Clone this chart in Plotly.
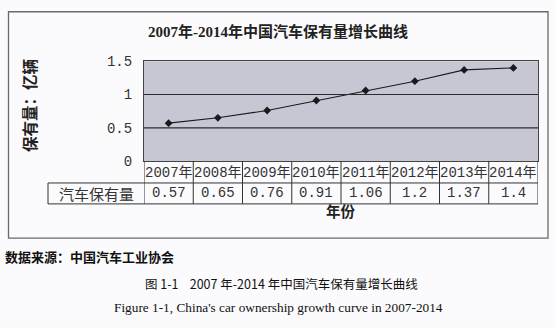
import plotly.graph_objects as go

years = ["2007年", "2008年", "2009年", "2010年", "2011年", "2012年", "2013年", "2014年"]
values = [0.57, 0.65, 0.76, 0.91, 1.06, 1.2, 1.37, 1.4]
value_labels = ["0.57", "0.65", "0.76", "0.91", "1.06", "1.2", "1.37", "1.4"]
y_ticks = [0, 0.5, 1, 1.5]
y_tick_text = ["0", "0.5", "1", "1.5"]
series_name = "汽车保有量"

W, H = 556, 328
PX0, PX1, PY0, PY1 = 144, 538, 57, 162   # plot area in pixels
ROW1, ROW2 = 185, 207                     # table row bottoms
HDR_X = 48

MONO_CJK = "Liberation Mono, Noto Sans CJK SC"
SERIF_CJK = "Liberation Serif, Noto Sans CJK SC"


def py(p):
    return 1 - p / H


def px(p):
    return p / W


fig = go.Figure()
fig.add_trace(go.Scatter(
    x=list(range(len(years))), y=values, mode="lines+markers",
    line=dict(color="#1a1a1a", width=1.1),
    marker=dict(symbol="diamond", size=6, color="#1a1a1a"),
    showlegend=False, hoverinfo="skip"))

shapes = []
# outer box
shapes.append(dict(type="rect", xref="paper", yref="paper", x0=px(8.5), x1=px(548), y0=py(243), y1=py(5),
                   line=dict(color="#6a6a6a", width=1.3), fillcolor="rgba(0,0,0,0)", layer="below"))
# gridlines
for t in y_ticks[1:3]:
    shapes.append(dict(type="line", xref="x domain", yref="y", x0=0, x1=1, y0=t, y1=t,
                       line=dict(color="#2a2a30", width=1.2)))
# table horizontal lines
for yy in [ROW1, ROW2]:
    shapes.append(dict(type="line", xref="paper", yref="paper", x0=px(HDR_X), x1=px(PX1), y0=py(yy), y1=py(yy),
                       line=dict(color="#333", width=1)))
# table vertical lines (category boundaries via x axis)
for i in range(len(years) + 1):
    shapes.append(dict(type="line", xref="x", yref="paper", x0=i - 0.5, x1=i - 0.5, y0=py(ROW2), y1=py(PY1),
                       line=dict(color="#333", width=1)))
shapes.append(dict(type="line", xref="paper", yref="paper", x0=px(HDR_X), x1=px(HDR_X), y0=py(ROW2), y1=py(ROW1),
                   line=dict(color="#333", width=1)))

annotations = []
for i, (yr, vl) in enumerate(zip(years, value_labels)):
    annotations.append(dict(x=i, xref="x", y=py((PY1 + ROW1) / 2 + 0.5), yref="paper", text=yr, showarrow=False,
                            font=dict(family=MONO_CJK, size=14, color="#333"),
                            xanchor="center", yanchor="middle"))
    annotations.append(dict(x=i, xref="x", y=py((ROW1 + ROW2) / 2), yref="paper", text=vl, showarrow=False,
                            font=dict(family="Liberation Mono", size=14, color="#333"),
                            xanchor="center", yanchor="middle"))
annotations.append(dict(x=px((HDR_X + PX0) / 2), xref="paper", y=py((ROW1 + ROW2) / 2), yref="paper",
                        text=series_name, showarrow=False,
                        font=dict(family="Noto Sans CJK SC", size=15, color="#333"),
                        xanchor="center", yanchor="middle"))
# titles
annotations.append(dict(x=px(278), xref="paper", y=py(26), yref="paper",
                        text="<b>2007年-2014年中国汽车保有量增长曲线</b>", showarrow=False,
                        font=dict(family=SERIF_CJK, size=15, color="#222"),
                        xanchor="center", yanchor="middle"))
annotations.append(dict(x=px(29), xref="paper", y=py(104), yref="paper",
                        text="<b>保有量：亿辆</b>", showarrow=False, textangle=-90,
                        font=dict(family="Noto Sans CJK SC", size=15.5, color="#222"),
                        xanchor="center", yanchor="middle"))
annotations.append(dict(x=px(341), xref="paper", y=py(214), yref="paper",
                        text="<b>年份</b>", showarrow=False,
                        font=dict(family="Noto Sans CJK SC", size=14.5, color="#222"),
                        xanchor="center", yanchor="middle"))
annotations.append(dict(x=px(3), xref="paper", y=py(262), yref="paper",
                        text="<b>数据来源：中国汽车工业协会</b>", showarrow=False,
                        font=dict(family="Noto Sans CJK SC", size=13, color="#111"),
                        xanchor="left", yanchor="middle"))
annotations.append(dict(x=px(281), xref="paper", y=py(291), yref="paper",
                        text="图 1-1    2007 年-2014 年中国汽车保有量增长曲线", showarrow=False,
                        font=dict(family="Noto Sans CJK SC", size=12.5, color="#111"),
                        xanchor="center", yanchor="middle"))
annotations.append(dict(x=px(278), xref="paper", y=py(316), yref="paper",
                        text="Figure 1-1, China's car ownership growth curve in 2007-2014", showarrow=False,
                        font=dict(family="Liberation Serif", size=13.3, color="#111"),
                        xanchor="center", yanchor="middle"))

fig.update_layout(
    width=W, height=H, margin=dict(l=0, r=0, t=0, b=0),
    paper_bgcolor="#fbfbfd", plot_bgcolor="#c6c7d3",
    xaxis=dict(domain=[px(PX0), px(PX1)], range=[-0.5, len(years) - 0.5], showticklabels=False,
               showgrid=False, zeroline=False, showline=True, linecolor="#444", linewidth=1.2, mirror=True,
               fixedrange=True),
    yaxis=dict(domain=[py(PY1), py(PY0)], range=[0, 1.5], tickvals=y_ticks, ticktext=y_tick_text,
               showgrid=False, zeroline=False, showline=True, linecolor="#444", linewidth=1.2, mirror=True,
               tickfont=dict(family="Liberation Mono", size=14, color="#333"), ticks="", ticklabelstandoff=8),
    shapes=shapes, annotations=annotations, showlegend=False,
)

fig.write_html("out.html")
